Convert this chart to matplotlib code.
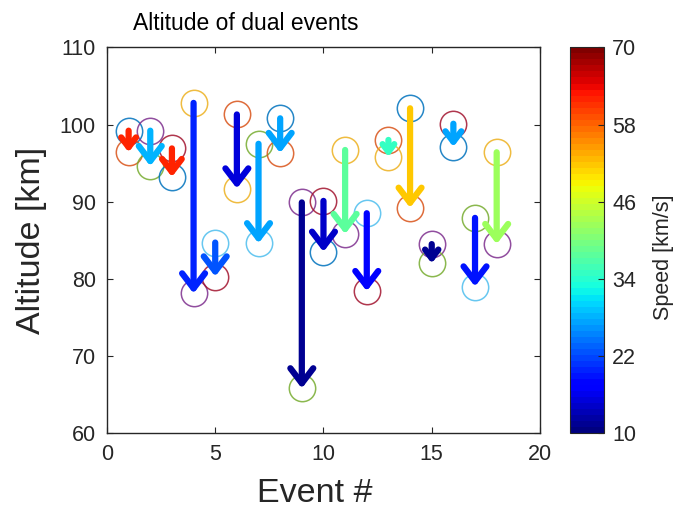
import matplotlib
matplotlib.use("Agg")
import matplotlib.pyplot as plt
import matplotlib.colors as mcolors
import matplotlib.cm as cm

plt.rcParams['font.family'] = ['Liberation Sans', 'DejaVu Sans']

# event data: start (top) and end (bottom) altitudes, speed of the event
events = list(range(1, 19))
alt_start = [99.2, 99.2, 96.9, 102.8, 84.7, 101.3, 97.5, 100.8, 89.9,
             90.1, 96.7, 88.5, 98.0, 102.1, 84.5, 100.1, 87.9, 96.4]
alt_end = [96.4, 94.6, 93.2, 78.1, 80.3, 91.7, 84.6, 96.3, 65.8,
           83.5, 85.8, 78.4, 95.8, 89.2, 82.0, 97.1, 79.0, 84.5]
speeds = [62, 28, 62, 20, 23, 15, 27, 27, 11,
          14, 38, 17, 35, 52, 11, 27, 19, 42]

# circle colours (matlab default order)
mblue = (0, 0.447, 0.741)
morange = (0.85, 0.325, 0.098)
myellow = (0.929, 0.694, 0.125)
mpurple = (0.494, 0.184, 0.556)
mgreen = (0.466, 0.674, 0.188)
mlblue = (0.301, 0.745, 0.933)
mdred = (0.635, 0.078, 0.184)
start_colors = [mblue, mpurple, mdred, myellow, mlblue, morange, mgreen, mblue, mpurple,
                mdred, myellow, mlblue, morange, mblue, mpurple, mdred, mgreen, myellow]
end_colors = [morange, mgreen, mblue, mpurple, mdred, myellow, mlblue, morange, mgreen,
              mblue, mpurple, mdred, myellow, morange, mgreen, mblue, mlblue, mpurple]

axcol = (0.15, 0.15, 0.15)

fig = plt.figure(figsize=(6.77, 5.09), dpi=100)
ax = fig.add_axes([0.158, 0.149, 0.6396, 0.758])
cax = fig.add_axes([0.842, 0.149, 0.050, 0.758])

cmap = plt.get_cmap('jet', 64)
norm = mcolors.Normalize(vmin=10, vmax=70)

ax.set_xlim(0, 20)
ax.set_ylim(60, 110)
px_per_km = 386 / 50.0

for i in range(len(events)):
    ax.plot(events[i], alt_start[i], 'o', ms=19, mfc='none', mec=start_colors[i], mew=1.1,
            alpha=0.85, zorder=2)
    ax.plot(events[i], alt_end[i], 'o', ms=19, mfc='none', mec=end_colors[i], mew=1.1,
            alpha=0.85, zorder=2)
    # head shrinks for short arrows like matlab quiver
    L = (alt_start[i] - alt_end[i]) * px_per_km
    head_px = min(15, 0.45 * L)
    ms_pt = head_px / (0.55 * 1.389)
    ax.annotate('', xy=(events[i], alt_end[i]), xytext=(events[i], alt_start[i]),
                arrowprops=dict(arrowstyle='->,head_length=0.55,head_width=0.42',
                                color=cmap(norm(speeds[i])), lw=4.5,
                                shrinkA=0, shrinkB=0, mutation_scale=ms_pt),
                zorder=3)

ax.set_xticks([0, 5, 10, 15, 20])
ax.set_yticks([60, 70, 80, 90, 100, 110])
ax.tick_params(direction='in', top=True, right=True, labelsize=15.5, colors=axcol,
               length=4, pad=8)
for s in ax.spines.values():
    s.set_color(axcol)
    s.set_linewidth(1.0)
ax.set_xlabel('Event #', fontsize=24.5, color=axcol)
ax.xaxis.set_label_coords(0.48, -0.115)
ax.set_ylabel('Altitude [km]', fontsize=24.5, color=axcol, labelpad=9)
fig.text(246 / 677, 1 - 30 / 509, 'Altitude of dual events', fontsize=16.5, color='black',
         ha='center', va='baseline')

cb = fig.colorbar(cm.ScalarMappable(norm=norm, cmap=cmap), cax=cax)
cb.set_ticks([10, 22, 34, 46, 58, 70])
cb.ax.tick_params(direction='in', labelsize=15.5, colors=axcol, length=4, pad=6)
cb.outline.set_edgecolor(axcol)
cb.set_label('Speed [km/s]', fontsize=15.5, color=axcol)
cb.ax.yaxis.set_label_coords(2.45, 0.456)

fig.savefig('out.png', dpi=100)
